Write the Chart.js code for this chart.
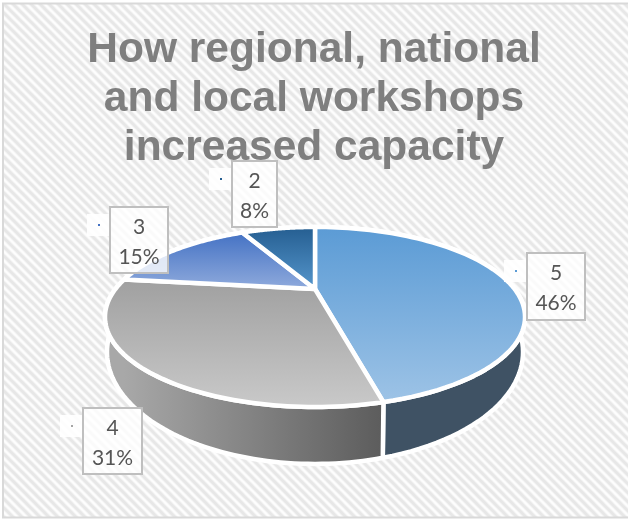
<!DOCTYPE html>
<html>
<head>
<meta charset="utf-8">
<style>
  html, body { margin: 0; padding: 0; background: #fff; }
  canvas { display: block; }
</style>
<script src="https://cdn.jsdelivr.net/npm/chart.js@4"></script>
</head>
<body>
<canvas id="myChart" width="628" height="519"></canvas>
<script>
const titleLines = ["How regional, national", "and local workshops", "increased capacity"];
const categories = ["5", "4", "3", "2"];
const counts = [6, 4, 2, 1];

// colours per slice, same order as categories
const topFrom = ["#5b9bd5", "#a0a0a0", "#4472c4", "#255e91"];
const topTo = ["#9dc3e6", "#c9c9c9", "#8faadc", "#5596cc"];
const wallFrom = ["#3f5264", "#a8a8a8", "#6f84ad", "#255e91"];
const wallTo = ["#3a4a5b", "#5c5c5c", "#4472c4", "#255e91"];

// label box + little key square, in page pixels
const boxes = [
  { x: 527, y: 253, w: 58, h: 67 },
  { x: 83, y: 408, w: 59, h: 66 },
  { x: 110, y: 207, w: 58, h: 66 },
  { x: 232, y: 161, w: 45, h: 66 }
];
const dotColors = ["#5b9bd5", "#a5a5a5", "#4472c4", "#255e91"];

// tilted disc: apex, radii and perspective factor measured on the picture
const disc = { cx: 315, cy: 289, a: 199.6, b: 81.3, k: 0.311 };
const base = { cx: 315, cy: 317.2, a: 197.7, b: 101.1, k: 0.311 };

function project(p, theta) {
  const x = Math.sin(theta), z = Math.cos(theta);
  const d = 1 + p.k * z;
  return [p.cx + p.a * x / d, p.cy - p.b * z / d];
}

function tracePath(ctx, p, from, to) {
  const steps = 80;
  for (let i = 0; i <= steps; i++) {
    const t = from + (to - from) * i / steps;
    const q = project(p, t);
    ctx.lineTo(q[0], q[1]);
  }
}

const stripes = {
  id: "stripes",
  beforeDraw(chart) {
    const ctx = chart.ctx;
    const tile = document.createElement("canvas");
    tile.width = tile.height = 9;
    const t = tile.getContext("2d");
    t.fillStyle = "#fdfdfd";
    t.fillRect(0, 0, 9, 9);
    [[4.2, "#f1f1f1"], [2.4, "#e7e7e7"]].forEach(s => {
      t.lineWidth = s[0];
      t.strokeStyle = s[1];
      t.beginPath();
      t.moveTo(-2, -2); t.lineTo(11, 11);
      t.moveTo(-2, 7); t.lineTo(2, 11);
      t.moveTo(7, -2); t.lineTo(11, 2);
      t.stroke();
    });
    ctx.save();
    ctx.fillStyle = "#fff";
    ctx.fillRect(0, 0, chart.width, chart.height);
    ctx.fillStyle = ctx.createPattern(tile, "repeat");
    ctx.fillRect(3, 3, chart.width, chart.height - 5);
    ctx.strokeStyle = "#d9d9d9";
    ctx.lineWidth = 2;
    ctx.strokeRect(3, 3.5, chart.width + 5, chart.height - 5);
    ctx.restore();
  }
};

// pie elements keep their angles from the library, only the drawing is tilted
const tiltedPie = {
  id: "tiltedPie",
  beforeDatasetDraw(chart, args) {
    const ctx = chart.ctx;
    const arcs = args.meta.data;
    const off = Math.PI / 2;
    ctx.save();
    ctx.lineJoin = "round";
    ctx.strokeStyle = "#fff";
    ctx.lineWidth = 4.5;
    // side wall first
    arcs.forEach((arc, i) => {
      const a0 = arc.startAngle + off, a1 = arc.endAngle + off;
      const g = ctx.createLinearGradient(Math.min(project(disc, a0)[0], project(disc, a1)[0]), 0, Math.max(project(disc, a0)[0], project(disc, a1)[0]), 0);
      if (i === 1) {
        g.addColorStop(0, wallFrom[i]);
        g.addColorStop(1, wallTo[i]);
      } else {
        g.addColorStop(0, wallTo[i]);
        g.addColorStop(1, wallFrom[i]);
      }
      ctx.beginPath();
      tracePath(ctx, disc, a0, a1);
      tracePath(ctx, base, a1, a0);
      ctx.closePath();
      ctx.fillStyle = g;
      ctx.fill();
      ctx.stroke();
    });
    // then the top face
    arcs.forEach((arc, i) => {
      const a0 = arc.startAngle + off, a1 = arc.endAngle + off;
      let ys = [disc.cy];
      for (let s = 0; s <= 40; s++) ys.push(project(disc, a0 + (a1 - a0) * s / 40)[1]);
      const g = ctx.createLinearGradient(0, Math.min(...ys), 0, Math.max(...ys));
      g.addColorStop(0, topFrom[i]);
      g.addColorStop(1, topTo[i]);
      ctx.beginPath();
      ctx.moveTo(disc.cx, disc.cy);
      tracePath(ctx, disc, a0, a1);
      ctx.closePath();
      ctx.fillStyle = g;
      ctx.fill();
      ctx.stroke();
    });
    ctx.restore();
    return false;
  },
  afterDatasetsDraw(chart) {
    const ctx = chart.ctx;
    const total = counts.reduce((s, v) => s + v, 0);
    ctx.save();
    ctx.textAlign = "center";
    ctx.textBaseline = "alphabetic";
    ctx.font = "21px Lato";
    boxes.forEach((b, i) => {
      const keyY = b.y + 7;
      ctx.fillStyle = "rgba(255,255,255,0.9)";
      ctx.fillRect(b.x - 23, keyY, 23, 22);
      ctx.fillStyle = dotColors[i];
      ctx.fillRect(b.x - 12, keyY + 10, 2, 2);
      ctx.fillStyle = "rgba(255,255,255,0.8)";
      ctx.fillRect(b.x, b.y, b.w, b.h);
      ctx.strokeStyle = "#bfbfbf";
      ctx.lineWidth = 2;
      ctx.strokeRect(b.x, b.y, b.w, b.h);
      ctx.fillStyle = "#555";
      const cx = b.x + b.w / 2;
      ctx.fillText(categories[i], cx, b.y + 27);
      ctx.fillText(Math.round(counts[i] / total * 100) + "%", cx, b.y + 57);
    });
    ctx.restore();
  }
};

const ctx = document.getElementById("myChart").getContext("2d");
let myChart = new Chart(ctx, {
  type: "pie",
  data: {
    labels: categories,
    datasets: [{ data: counts, backgroundColor: topFrom, borderColor: "#fff", borderWidth: 3 }]
  },
  options: {
    responsive: false,
    animation: false,
    layout: { padding: 0 },
    plugins: {
      legend: { display: false },
      tooltip: { enabled: false },
      title: {
        display: true,
        text: titleLines,
        color: "#7f7f7f",
        font: { family: "'Liberation Sans'", size: 42.5, weight: "bold", lineHeight: 1.15 },
        padding: { top: 26, bottom: 0 }
      }
    }
  },
  plugins: [stripes, tiltedPie]
});
</script>
</body>
</html>
